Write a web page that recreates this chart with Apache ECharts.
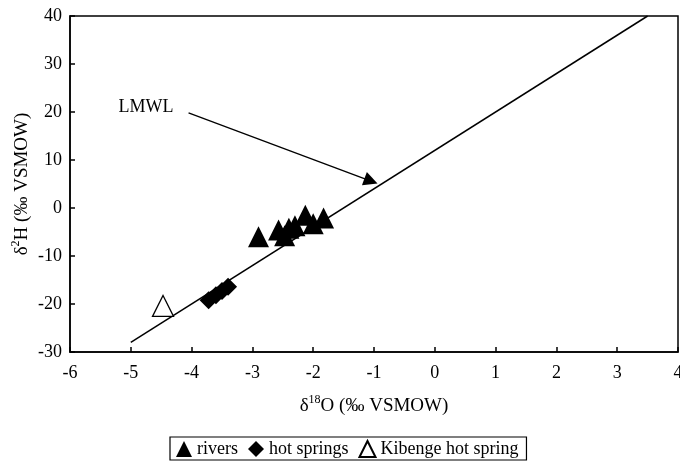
<!DOCTYPE html>
<html>
<head>
<meta charset="utf-8">
<script src="https://cdn.jsdelivr.net/npm/echarts@6/dist/echarts.min.js"></script>
<style>
  html, body { margin: 0; padding: 0; background: #fff; }
  #container1 { width: 680px; height: 465px; }
</style>
</head>
<body>
<div id="container1"></div>
<script>
// data (δ18O, δ2H)
var rivers = [[-2.9, -6.0], [-2.57, -4.6], [-2.47, -5.8], [-2.4, -4.2], [-2.3, -3.7], [-2.13, -1.5], [-2.0, -3.3], [-1.83, -2.1]];
var hotSprings = [[-3.72, -19.2], [-3.6, -18.2], [-3.5, -17.3], [-3.4, -16.4]];
var kibenge = [[-4.47, -20.4]];
var lmwl = [[-5, -28], [3.5, 40]];           // local meteoric water line
var arrowLine = [[-4.05, 19.8], [-1.05, 5.6]]; // LMWL label arrow
var labelPos = [-4.75, 20.9];
var xTicks = [-6, 4, 1];   // min, max, interval
var yTicks = [-30, 40, 10];

var font = 'Liberation Serif';

function Chart1_Init() {
    var myChart = echarts.init(document.getElementById('container1'));
    var option = {
        animation: false,
        textStyle: { fontFamily: font, color: '#000' },
        grid: {
            left: 70, right: 2, top: 16, bottom: 113,
            outerBoundsMode: 'none',
            show: true, borderColor: '#000', borderWidth: 1.5
        },
        legend: {
            left: 170, bottom: 5,
            itemWidth: 16, itemHeight: 16, itemGap: 10,
            borderColor: '#000', borderWidth: 1.2,
            padding: [3, 8, 2, 6],
            textStyle: { fontFamily: font, fontSize: 18, color: '#000' },
            data: [
                { name: 'rivers', icon: 'triangle' },
                { name: 'hot springs', icon: 'diamond' },
                { name: 'Kibenge hot spring', icon: 'triangle' }
            ]
        },
        xAxis: {
            type: 'value',
            min: xTicks[0], max: xTicks[1], interval: xTicks[2],
            splitLine: { show: false },
            axisLine: { onZero: false, lineStyle: { color: '#000', width: 1.5 } },
            axisTick: { inside: true, length: 5, lineStyle: { color: '#000', width: 1.5 } },
            axisLabel: { fontFamily: font, fontSize: 18, color: '#000', margin: 12 },
            name: '{d|δ}{sup|18}{d|O (‰ VSMOW)}',
            nameLocation: 'middle',
            nameGap: 42,
            nameTextStyle: {
                rich: {
                    d: { fontFamily: font, fontSize: 19, color: '#000', lineHeight: 24 },
                    sup: { fontFamily: font, fontSize: 12, color: '#000', verticalAlign: 'top', lineHeight: 24, padding: [0, 0, 9, 0] }
                }
            }
        },
        yAxis: {
            type: 'value',
            min: yTicks[0], max: yTicks[1], interval: yTicks[2],
            splitLine: { show: false },
            axisLine: { onZero: false, lineStyle: { color: '#000', width: 1.5 } },
            axisTick: { inside: true, length: 5, lineStyle: { color: '#000', width: 1.5 } },
            axisLabel: { fontFamily: font, fontSize: 18, color: '#000', margin: 8 },
            name: '{d|δ}{sup|2}{d|H (‰ VSMOW)}',
            nameLocation: 'middle',
            nameRotate: 90,
            nameGap: 36,
            nameMoveOverlap: false,
            nameTextStyle: {
                rich: {
                    d: { fontFamily: font, fontSize: 19, color: '#000', lineHeight: 24 },
                    sup: { fontFamily: font, fontSize: 12, color: '#000', verticalAlign: 'top', lineHeight: 24, padding: [0, 0, 9, 0] }
                }
            }
        },
        series: [
            {
                name: 'LMWL',
                type: 'line',
                data: lmwl,
                symbol: 'none',
                lineStyle: { color: '#000', width: 1.5 },
                z: 1
            },
            {
                name: 'arrow',
                type: 'lines',
                coordinateSystem: 'cartesian2d',
                data: [{ coords: arrowLine }],
                symbol: ['none', 'triangle'],
                symbolSize: [1, 14],
                lineStyle: { color: '#000', width: 1.3, opacity: 1 },
                z: 1
            },
            {
                name: 'label',
                type: 'scatter',
                data: [labelPos],
                symbolSize: 0,
                itemStyle: { opacity: 1 },
                label: {
                    show: true, position: 'inside', formatter: 'LMWL',
                    fontFamily: font, fontSize: 18, color: '#000'
                },
                z: 1
            },
            {
                name: 'rivers',
                type: 'scatter',
                data: rivers,
                symbol: 'triangle',
                symbolSize: 21,
                itemStyle: { color: '#000', opacity: 1 },
                z: 3
            },
            {
                name: 'hot springs',
                type: 'scatter',
                data: hotSprings,
                symbol: 'diamond',
                symbolSize: 18,
                itemStyle: { color: '#000', opacity: 1 },
                z: 3
            },
            {
                name: 'Kibenge hot spring',
                type: 'scatter',
                data: kibenge,
                symbol: 'triangle',
                symbolSize: 21,
                itemStyle: { color: '#fff', borderColor: '#000', borderWidth: 1.3, opacity: 1 },
                z: 3
            }
        ]
    };
    myChart.setOption(option);
}

Chart1_Init();
</script>
</body>
</html>
